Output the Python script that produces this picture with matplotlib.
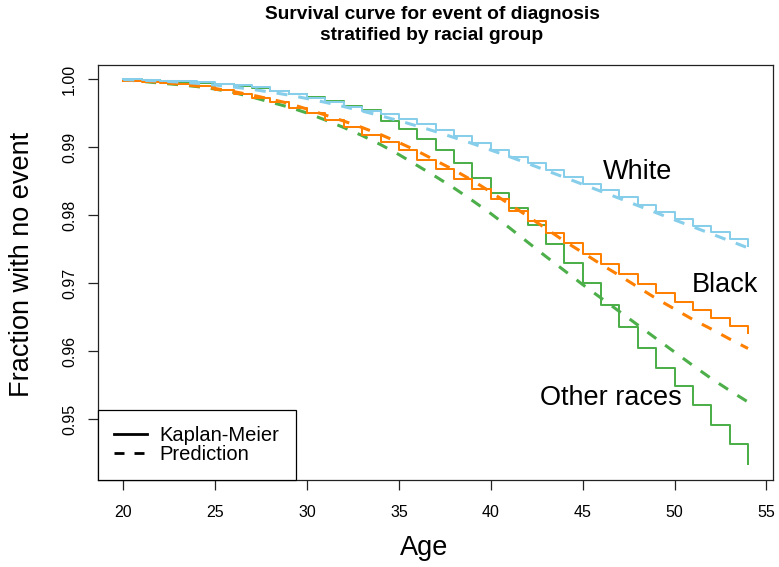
import numpy as np
import matplotlib
matplotlib.use('Agg')
import matplotlib.pyplot as plt
from matplotlib.lines import Line2D

plt.rcParams['font.family'] = ['Liberation Sans', 'DejaVu Sans']

# ages where the curves step
age = np.arange(20, 55)

# Kaplan-Meier estimates (step curves)
km_white = [0.99996, 0.99985, 0.99978, 0.99966, 0.99952, 0.99934, 0.99912, 0.99883,
            0.99824, 0.99780, 0.99721, 0.99662, 0.99596, 0.99537, 0.99486, 0.99420,
            0.99339, 0.99251, 0.99163, 0.99068, 0.98957, 0.98862, 0.98767, 0.98664,
            0.98568, 0.98466, 0.98370, 0.98267, 0.98157, 0.98054, 0.97952, 0.97849,
            0.97753, 0.97658, 0.97548]
km_black = [0.99975, 0.99960, 0.99937, 0.99922, 0.99897, 0.99838, 0.99780, 0.99717,
            0.99658, 0.99570, 0.99496, 0.99398, 0.99300, 0.99178, 0.99079, 0.98957,
            0.98818, 0.98678, 0.98529, 0.98380, 0.98235, 0.98066, 0.97912, 0.97746,
            0.97587, 0.97430, 0.97283, 0.97137, 0.96990, 0.96853, 0.96730, 0.96608,
            0.96486, 0.96373, 0.96266]
km_other = [0.99996, 0.99985, 0.99975, 0.99960, 0.99946, 0.99927, 0.99897, 0.99863,
            0.99831, 0.99787, 0.99731, 0.99673, 0.99611, 0.99545, 0.99388, 0.99261,
            0.99115, 0.98957, 0.98762, 0.98542, 0.98322, 0.98101, 0.97856, 0.97577,
            0.97294, 0.97000, 0.96681, 0.96363, 0.96046, 0.95761, 0.95492, 0.95209,
            0.94919, 0.94640, 0.94347]

# model predictions
pred_white = [0.99993, 0.99982, 0.99971, 0.99956, 0.99937, 0.99912, 0.99883, 0.99849,
              0.99809, 0.99765, 0.99714, 0.99658, 0.99596, 0.99530, 0.99461, 0.99388,
              0.99310, 0.99229, 0.99141, 0.99053, 0.98957, 0.98862, 0.98762, 0.98659,
              0.98557, 0.98454, 0.98351, 0.98248, 0.98142, 0.98037, 0.97932, 0.97830,
              0.97727, 0.97624, 0.97521]
pred_black = [0.99993, 0.99974, 0.99952, 0.99927, 0.99897, 0.99861, 0.99816, 0.99765,
              0.99706, 0.99643, 0.99559, 0.99471, 0.99383, 0.99288, 0.99185, 0.99068,
              0.98943, 0.98803, 0.98664, 0.98510, 0.98341, 0.98165, 0.97988, 0.97805,
              0.97621, 0.97452, 0.97279, 0.97115, 0.96946, 0.96777, 0.96623, 0.96468,
              0.96329, 0.96182, 0.96043]
pred_other = [0.99993, 0.99966, 0.99941, 0.99918, 0.99890, 0.99853, 0.99802, 0.99736,
              0.99662, 0.99589, 0.99501, 0.99398, 0.99288, 0.99170, 0.99038, 0.98891,
              0.98730, 0.98568, 0.98399, 0.98216, 0.98025, 0.97819, 0.97606, 0.97394,
              0.97188, 0.96982, 0.96784, 0.96586, 0.96388, 0.96189, 0.95991, 0.95793,
              0.95602, 0.95426, 0.95257]

groups = ['White', 'Black', 'Other races']
colors = ['#87CEEB', '#FF7F00', '#4DAF4A']
label_pos = [(48.0, 0.98635), (52.75, 0.96975), (46.55, 0.95316)]

fig = plt.figure(figsize=(7.79, 5.67), dpi=100)
ax = fig.add_axes([0.1262, 0.1534, 0.8661, 0.7319])

dash = (0, (3.6, 3.6))
for km, pr, col in [(km_other, pred_other, colors[2]),
                    (km_black, pred_black, colors[1]),
                    (km_white, pred_white, colors[0])]:
    ax.step(age, km, where='post', color=col, lw=1.45)
    ax.plot(age, pr, color=col, lw=2.2, linestyle=dash, dash_capstyle='butt')

for g, (x, y) in zip(groups, label_pos):
    ax.text(x, y, g, fontsize=19.5, ha='center', va='center')

ax.set_xlim(18.64, 55.36)
ax.set_ylim(0.94111, 1.00206)
ax.set_xticks([20, 25, 30, 35, 40, 45, 50, 55])
ax.set_yticks([0.95, 0.96, 0.97, 0.98, 0.99, 1.00])
ax.yaxis.set_major_formatter(matplotlib.ticker.FormatStrFormatter('%.2f'))
ax.tick_params(direction='out', length=7.2, width=0.9, labelsize=11.5, color='#222222')
ax.tick_params(axis='x', pad=10.5)
ax.tick_params(axis='y', pad=8)
plt.setp(ax.get_yticklabels(), rotation=90, va='center')
for s in ax.spines.values():
    s.set_linewidth(0.9)
    s.set_color('#222222')

handles = [Line2D([], [], color='black', lw=2.0),
           Line2D([], [], color='black', lw=2.0, linestyle=(0, (3.6, 3.6)), dash_capstyle='butt')]
leg = ax.legend(handles, ['Kaplan-Meier', 'Prediction'], loc='lower left',
                bbox_to_anchor=(0, 0), borderaxespad=0, fancybox=False,
                framealpha=1, edgecolor='black', fontsize=14.5,
                handlelength=1.6, handletextpad=0.65, labelspacing=0.0,
                borderpad=0.8)
leg.get_frame().set_linewidth(0.9)

fig.text(0.5545, 0.975, 'Survival curve for event of diagnosis', ha='center', va='center',
         fontsize=13.8, fontweight='bold')
fig.text(0.5545, 0.937, 'stratified by racial group', ha='center', va='center',
         fontsize=13.8, fontweight='bold')
fig.text(0.0282, 0.533, 'Fraction with no event', rotation=90, ha='center', va='center',
         fontsize=19.5)
fig.text(0.544, 0.0335, 'Age', ha='center', va='center', fontsize=19.5)

fig.savefig('out.png', dpi=100)
